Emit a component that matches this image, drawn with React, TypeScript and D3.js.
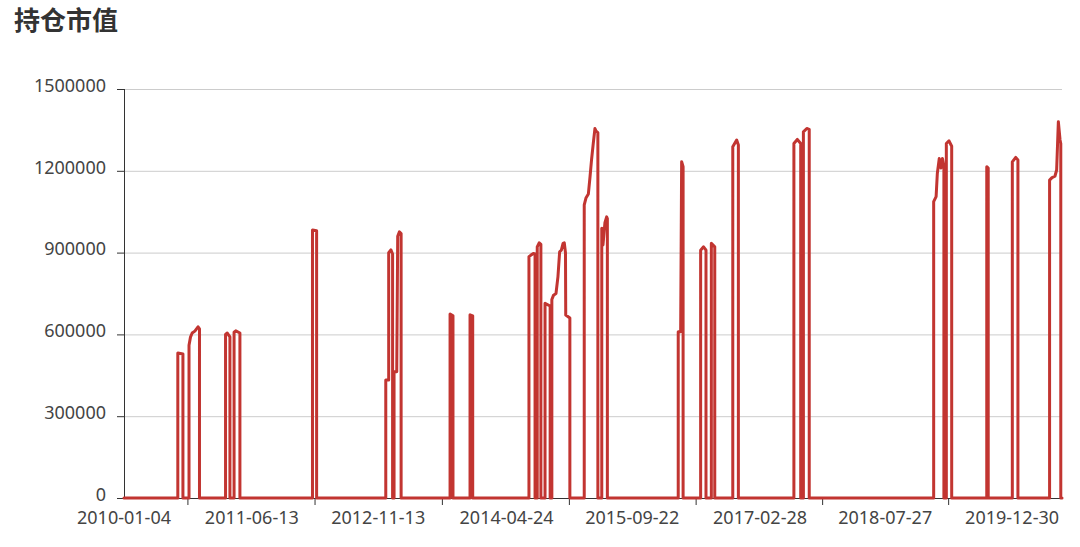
import React from "react";
import * as d3 from "d3";

const title = "持仓市值";

const xLabels = [
  "2010-01-04", "2011-06-13", "2012-11-13", "2014-04-24",
  "2015-09-22", "2017-02-28", "2018-07-27", "2019-12-30",
];

const yTicks = [0, 300000, 600000, 900000, 1200000, 1500000];

// trading dates where the position value changes
const dates = [
  "2010-01-04",
  "2010-08-13", "2010-08-13", "2010-09-03", "2010-09-03",
  "2010-09-28", "2010-09-28", "2010-10-04", "2010-10-11", "2010-10-22", "2010-11-04", "2010-11-10", "2010-11-10",
  "2011-02-25", "2011-02-25", "2011-03-04", "2011-03-15", "2011-03-15",
  "2011-04-01", "2011-04-01", "2011-04-08", "2011-04-25", "2011-04-25",
  "2012-02-17", "2012-02-17", "2012-03-05", "2012-03-05",
  "2012-12-14", "2012-12-14", "2012-12-26", "2012-12-26", "2013-01-04", "2013-01-11", "2013-01-11",
  "2013-01-17", "2013-01-17", "2013-01-28", "2013-02-01", "2013-02-08", "2013-02-15", "2013-02-15",
  "2013-09-04", "2013-09-04", "2013-09-16", "2013-09-16",
  "2013-11-25", "2013-11-25", "2013-12-06", "2013-12-06",
  "2014-07-25", "2014-07-25", "2014-08-01", "2014-08-12", "2014-08-19", "2014-08-19",
  "2014-08-28", "2014-08-28", "2014-09-05", "2014-09-12", "2014-09-12",
  "2014-09-29", "2014-09-29", "2014-10-20", "2014-10-20",
  "2014-10-27", "2014-10-27", "2014-11-03", "2014-11-13", "2014-11-21", "2014-11-28", "2014-12-05",
  "2014-12-12", "2014-12-17", "2014-12-22", "2014-12-23", "2015-01-09", "2015-01-09",
  "2015-03-09", "2015-03-09", "2015-03-16", "2015-03-26", "2015-04-02", "2015-04-08", "2015-04-15",
  "2015-04-22", "2015-04-27", "2015-05-04", "2015-05-04",
  "2015-05-20", "2015-05-20", "2015-05-25", "2015-06-02", "2015-06-09", "2015-06-12", "2015-06-12",
  "2016-03-29", "2016-03-29", "2016-04-08", "2016-04-12", "2016-04-18", "2016-04-18",
  "2016-06-29", "2016-06-29", "2016-07-11", "2016-07-21", "2016-07-21",
  "2016-08-12", "2016-08-12", "2016-08-26", "2016-08-26",
  "2016-11-08", "2016-11-08", "2016-11-24", "2016-12-01", "2016-12-01",
  "2017-07-17", "2017-07-17", "2017-07-31", "2017-08-14", "2017-08-14",
  "2017-08-25", "2017-08-25", "2017-09-08", "2017-09-18", "2017-09-18",
  "2019-02-11", "2019-02-11", "2019-02-21", "2019-02-26", "2019-03-06", "2019-03-13", "2019-03-19",
  "2019-03-25", "2019-03-25", "2019-04-04", "2019-04-04", "2019-04-15", "2019-04-26", "2019-04-26",
  "2019-09-17", "2019-09-17", "2019-09-23", "2019-09-23",
  "2019-12-31", "2019-12-31", "2020-01-14", "2020-01-23", "2020-01-23",
  "2020-06-01", "2020-06-01", "2020-06-11", "2020-06-23", "2020-06-30", "2020-07-07", "2020-07-14",
  "2020-07-17", "2020-07-17",
  "2020-07-22",
];

const values = [
  0,
  0, 532000, 528000, 0,
  0, 560000, 590000, 605000, 612000, 628000, 620000, 0,
  0, 600000, 605000, 591000, 0,
  0, 608000, 613000, 605000, 0,
  0, 983000, 980000, 0,
  0, 433000, 433000, 900000, 910000, 895000, 0,
  0, 463000, 463000, 960000, 976000, 970000, 0,
  0, 675000, 668000, 0,
  0, 672000, 668000, 0,
  0, 885000, 890000, 897000, 895000, 0,
  0, 921000, 936000, 930000, 0,
  0, 714000, 704000, 0,
  0, 728000, 744000, 750000, 811000, 903000, 909000,
  934000, 936000, 900000, 671000, 660000, 0,
  0, 1075000, 1100000, 1115000, 1180000, 1240000, 1300000,
  1355000, 1345000, 1340000, 0,
  0, 989000, 928000, 1010000, 1031000, 1025000, 0,
  0, 610000, 610000, 1233000, 1215000, 0,
  0, 909000, 921000, 909000, 0,
  0, 934000, 921000, 0,
  0, 1288000, 1313000, 1295000, 0,
  0, 1300000, 1315000, 1300000, 0,
  0, 1343000, 1355000, 1352000, 0,
  0, 1087000, 1105000, 1190000, 1245000, 1210000, 1245000,
  1215000, 0, 0, 1300000, 1310000, 1290000, 0,
  0, 1215000, 1210000, 0,
  0, 1233000, 1249000, 1240000, 0,
  0, 1166000, 1175000, 1180000, 1203000, 1380000, 1313000,
  1300000, 0,
  0,
];

export default function App() {
  const width = 1080;
  const height = 547;
  const marginLeft = 124;
  const marginRight = 18;
  const marginTop = 89;
  const marginBottom = 49;

  const parse = d3.utcParse("%Y-%m-%d");

  const x = d3
    .scaleUtc()
    .domain([parse(dates[0]), parse(dates[dates.length - 1])])
    .range([marginLeft, width - marginRight]);

  const y = d3
    .scaleLinear()
    .domain([0, 1500000])
    .range([height - marginBottom, marginTop]);

  const points = dates.map((d, i) => [parse(d), values[i]]);

  const line = d3
    .line()
    .x((d) => x(d[0]))
    .y((d) => y(d[1]));

  // labels sit on their dates, ticks halfway between them
  const labelX = xLabels.map((l) => x(parse(l)));
  const tickX = labelX.slice(1).map((v, i) => (v + labelX[i]) / 2);

  const axisColor = "#333";
  const labelColor = "#444";
  const font = "'Noto Sans', 'DejaVu Sans', sans-serif";

  return (
    <svg
      width={width}
      height={height}
      style={{ position: "absolute", left: 0, top: 0, background: "#fff" }}
    >
      <text
        x={14}
        y={30}
        fontSize={26}
        fontWeight="bold"
        fill="#333"
        fontFamily="'Noto Sans CJK SC', sans-serif"
      >
        {title}
      </text>

      {/* horizontal grid */}
      <g stroke="#ccc" strokeWidth={1}>
        {yTicks.slice(1).map((t) => (
          <line key={t} x1={marginLeft} x2={width - marginRight} y1={y(t) + 0.5} y2={y(t) + 0.5} />
        ))}
      </g>

      {/* y axis */}
      <g>
        <line x1={marginLeft + 0.5} x2={marginLeft + 0.5} y1={marginTop} y2={height - marginBottom} stroke={axisColor} />
        {yTicks.map((t) => (
          <g key={t}>
            <line x1={marginLeft - 7} x2={marginLeft} y1={y(t) + 0.5} y2={y(t) + 0.5} stroke={axisColor} />
            <text
              x={marginLeft - 18}
              y={y(t) - 2}
              textAnchor="end"
              dominantBaseline="middle"
              fontSize={18}
              fill={labelColor}
              fontFamily={font}
            >
              {t}
            </text>
          </g>
        ))}
      </g>

      {/* x axis */}
      <g>
        <line x1={marginLeft} x2={width - marginRight} y1={y(0) + 0.5} y2={y(0) + 0.5} stroke={axisColor} />
        {tickX.map((tx, i) => (
          <line key={i} x1={tx} x2={tx} y1={y(0)} y2={y(0) + 7} stroke={axisColor} />
        ))}
        {xLabels.map((l, i) => (
          <text
            key={l}
            x={labelX[i]}
            y={y(0) + 26}
            textAnchor="middle"
            fontSize={18}
            fill={labelColor}
            fontFamily={font}
          >
            {l}
          </text>
        ))}
      </g>

      <path
        d={line(points)}
        fill="none"
        stroke="#c23531"
        strokeWidth={3}
        strokeLinejoin="round"
        strokeLinecap="round"
      />
    </svg>
  );
}
